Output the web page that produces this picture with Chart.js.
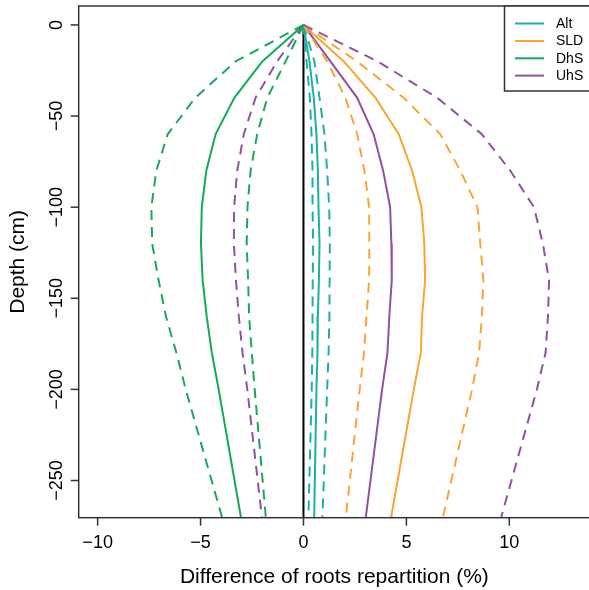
<!DOCTYPE html>
<html>
<head>
<meta charset="utf-8">
<script src="https://cdn.jsdelivr.net/npm/chart.js@4"></script>
<style>
  html, body { margin: 0; padding: 0; background: #fff; overflow: hidden; }
  #wrap { width: 600px; height: 590px; }
</style>
</head>
<body>
<div id="wrap"><canvas id="myChart" width="600" height="590"></canvas></div>
<script>
// depth (cm) of each profile point
const depths = [0, -20, -40, -60, -80, -100, -120, -140, -160, -180, -200, -270];

// difference of roots repartition (%) - mean and the two dashed bounds
const alt_mean = [0, 0.29, 0.50, 0.63, 0.70, 0.73, 0.78, 0.75, 0.70, 0.68, 0.63, 0.52];
const alt_low  = [0, 0.15, 0.31, 0.39, 0.44, 0.44, 0.47, 0.45, 0.44, 0.43, 0.40, 0.24];
const alt_high = [0, 0.53, 0.78, 1.02, 1.15, 1.25, 1.28, 1.27, 1.26, 1.22, 1.15, 0.92];

const sld_mean = [0, 1.96, 3.50, 4.63, 5.28, 5.73, 5.87, 5.91, 5.76, 5.70, 5.36, 4.26];
const sld_low  = [0, 1.15, 2.04, 2.61, 2.96, 3.19, 3.20, 3.19, 3.06, 2.94, 2.73, 2.06];
const sld_high = [0, 2.60, 4.87, 6.65, 7.62, 8.45, 8.59, 8.74, 8.67, 8.53, 8.19, 6.78];

const dhs_mean = [0, -2.00, -3.36, -4.27, -4.72, -4.94, -4.98, -4.90, -4.70, -4.45, -4.12, -3.04];
const dhs_low  = [0, -3.30, -5.26, -6.60, -7.15, -7.39, -7.35, -7.04, -6.68, -6.17, -5.72, -3.96];
const dhs_high = [0, -0.87, -1.76, -2.25, -2.57, -2.72, -2.76, -2.69, -2.64, -2.51, -2.37, -1.83];

const uhs_mean = [0, 1.31, 2.61, 3.41, 3.87, 4.21, 4.27, 4.29, 4.17, 4.08, 3.82, 3.03];
const uhs_low  = [0, -1.28, -2.33, -2.90, -3.22, -3.37, -3.38, -3.28, -3.14, -2.96, -2.73, -2.02];
const uhs_high = [0, 3.60, 6.50, 8.67, 10.05, 11.20, 11.63, 11.93, 11.88, 11.76, 11.34, 9.61];

// zero reference line
const zero_x = [0, 0];
const zero_depth = [0, -270];

const xTicks = [-10, -5, 0, 5, 10];
const yTicks = [0, -50, -100, -150, -200, -250];
const legendNames = ['Alt', 'SLD', 'DhS', 'UhS'];

const col_alt = '#1bb0a6';
const col_sld = '#f9a534';
const col_dhs = '#14aa5a';
const col_uhs = '#9150a0';
const legendColors = [col_alt, col_sld, col_dhs, col_uhs];

function toPoints(xs, ys){
    let pts = [];
    for(let i = 0; i < xs.length; i += 1){
        pts.push({x: xs[i], y: ys[i]});
    }
    return pts;
}

function line(values, color, dashed){
    return {
        data: toPoints(values, depths),
        borderColor: color,
        borderWidth: 2,
        borderDash: dashed ? [10, 7] : [],
        showLine: true,
        pointRadius: 0,
        tension: 0,
        fill: false
    };
}

const FONT = '"Liberation Sans", Arial, Helvetica, sans-serif';

// box, ticks, labels, titles and legend drawn R style
const decor = {
    id: 'decor',
    afterDraw(chart){
        const ctx = chart.ctx;
        const a = chart.chartArea;
        const xs = chart.scales.x;
        const ys = chart.scales.y;
        ctx.save();
        ctx.strokeStyle = '#333';
        ctx.lineWidth = 1.5;
        ctx.strokeRect(a.left, a.top, a.right - a.left, a.bottom - a.top);

        ctx.fillStyle = '#000';
        ctx.font = '18px ' + FONT;
        // x ticks
        ctx.textAlign = 'center';
        ctx.textBaseline = 'middle';
        xTicks.forEach(v => {
            const px = xs.getPixelForValue(v);
            ctx.beginPath();
            ctx.moveTo(px, a.bottom);
            ctx.lineTo(px, a.bottom + 8);
            ctx.stroke();
            ctx.fillText(String(v).replace('-', '\u2212'), px, 543.5);
        });
        // y ticks (rotated labels)
        yTicks.forEach(v => {
            const py = ys.getPixelForValue(v);
            ctx.beginPath();
            ctx.moveTo(a.left, py);
            ctx.lineTo(a.left - 8, py);
            ctx.stroke();
            ctx.save();
            ctx.translate(57, py);
            ctx.rotate(-Math.PI / 2);
            ctx.fillText(String(v).replace('-', '\u2212'), 0, 0);
            ctx.restore();
        });
        // axis titles
        ctx.font = '21px ' + FONT;
        ctx.fillText('Difference of roots repartition (%)', (a.left + a.right) / 2, 577);
        ctx.save();
        ctx.translate(18, (a.top + a.bottom) / 2);
        ctx.rotate(-Math.PI / 2);
        ctx.fillText('Depth (cm)', 0, 0);
        ctx.restore();

        // legend
        ctx.fillStyle = '#fff';
        ctx.fillRect(504.5, a.top, 120, 91 - a.top);
        ctx.strokeStyle = '#333';
        ctx.lineWidth = 1.5;
        ctx.strokeRect(504.5, a.top, 120, 91 - a.top);
        ctx.font = '14px ' + FONT;
        ctx.textAlign = 'left';
        const rowY = [23.5, 41, 58.3, 75.6];
        legendNames.forEach((name, i) => {
            ctx.strokeStyle = legendColors[i];
            ctx.lineWidth = 2;
            ctx.beginPath();
            ctx.moveTo(515, rowY[i]);
            ctx.lineTo(544, rowY[i]);
            ctx.stroke();
            ctx.fillStyle = '#000';
            ctx.fillText(name, 556, rowY[i] + 0.5);
        });
        ctx.restore();
    }
};

const ctx = document.getElementById('myChart').getContext('2d');
const myChart = new Chart(ctx, {
    type: 'scatter',
    data: {
        datasets: [
            line(dhs_low, col_dhs, true),
            line(dhs_high, col_dhs, true),
            line(uhs_low, col_uhs, true),
            line(uhs_high, col_uhs, true),
            line(sld_low, col_sld, true),
            line(sld_high, col_sld, true),
            line(alt_low, col_alt, true),
            line(alt_high, col_alt, true),
            line(dhs_mean, col_dhs, false),
            line(uhs_mean, col_uhs, false),
            line(sld_mean, col_sld, false),
            line(alt_mean, col_alt, false),
            {
                data: toPoints(zero_x, zero_depth),
                borderColor: '#000',
                borderWidth: 2,
                showLine: true,
                pointRadius: 0
            }
        ]
    },
    options: {
        responsive: false,
        animation: false,
        devicePixelRatio: 1,
        layout: { padding: { top: 6, right: 10, left: 0, bottom: 0 } },
        plugins: { legend: { display: false }, tooltip: { enabled: false } },
        scales: {
            x: {
                type: 'linear',
                min: -10.92,
                max: 13.92,
                grid: { display: false },
                border: { display: false },
                ticks: { display: false },
                afterFit: s => { s.height = 72.3; }
            },
            y: {
                type: 'linear',
                min: -270.4,
                max: 10.4,
                grid: { display: false },
                border: { display: false },
                ticks: { display: false },
                afterFit: s => { s.width = 78.7; }
            }
        }
    },
    plugins: [decor]
});
</script>
</body>
</html>
